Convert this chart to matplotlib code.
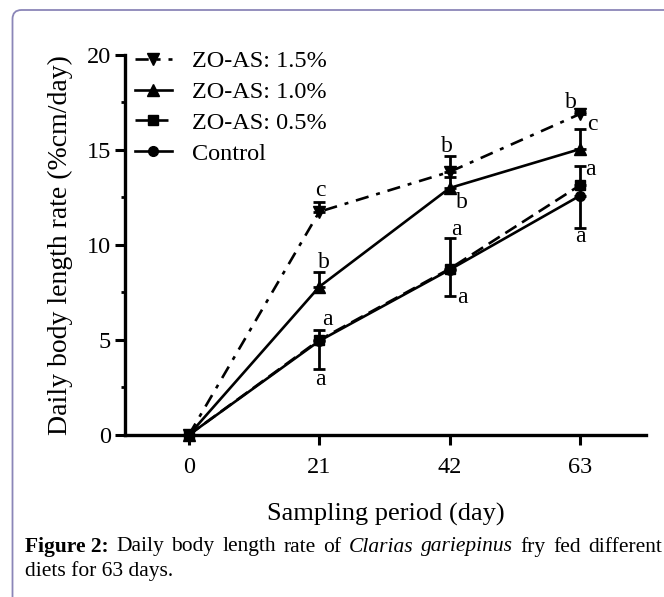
import matplotlib
matplotlib.use('Agg')
import matplotlib.pyplot as plt
from matplotlib.patches import FancyBboxPatch
from matplotlib.transforms import IdentityTransform
from matplotlib.ticker import MultipleLocator

plt.rcParams['font.family'] = ['Liberation Serif', 'DejaVu Serif']

# Data
days = [0, 21, 42, 63]
zo15 = [0, 11.75, 13.85, 16.9]
zo15_err = [0, 0.5, 0.85, 0.1]
zo10 = [0, 7.8, 13.0, 15.05]
zo10_err = [0, 0.8, 0.6, 1.05]
zo05 = [0, 5.0, 8.75, 13.15]
zo05_err = [0, 0.5, 1.6, 1.0]
ctrl = [0, 4.95, 8.7, 12.6]
ctrl_err = [0, 1.5, 1.4, 1.7]

# significance letters at day 21, 42, 63
zo15_letters = ['c', 'b', 'b']
zo10_letters = ['b', 'b', 'c']
zo05_letters = ['a', 'a', 'a']
ctrl_letters = ['a', 'a', 'a']

fig = plt.figure(figsize=(6.64, 5.97), dpi=100)
ax = fig.add_axes([0.188, 0.2714, 0.785, 0.6365])

lw = 1.9
kw = dict(color='black', lw=lw, capsize=4, capthick=2, elinewidth=2, clip_on=False)
none = [0] * len(days)

# one-sided error bars as in the original
e_ctrl = ax.errorbar(days, ctrl, yerr=[ctrl_err, none], marker='o', ms=7, ls='-', **kw)
e_05 = ax.errorbar(days, zo05, yerr=[none, zo05_err], marker='s', ms=7,
                   ls=(0, (5, 2.5)), **kw)
e_10 = ax.errorbar(days, zo10, yerr=[none, zo10_err], marker='^', ms=8, ls='-', **kw)
e_15 = ax.errorbar(days, zo15, yerr=[none, zo15_err], marker='v', ms=8,
                   ls=(0, (5, 3, 1.5, 3)), **kw)

# letters: anchor at the end of the error bar (or the mean), offset in points
lfs = 17
series = [
    (zo15, zo15_err, 1, zo15_letters, [(0.7, 4.7), (-2, 3), (-6.5, 2.8)], [True, True, True]),
    (zo10, zo10_err, 1, zo10_letters, [(3, 2.3), (8.8, -14.6), (8.4, -0.9)], [True, False, True]),
    (zo05, zo05_err, 1, zo05_letters, [(5.5, 3.6), (5, 2.1), (7.2, -6.7)], [True, True, True]),
    (ctrl, ctrl_err, -1, ctrl_letters, [(0.7, -11.4), (9, -5.1), (0, -10.2)], [True, True, True]),
]
for vals, errs, sign, letters, offs, use_err in series:
    for i in range(1, len(days)):
        y = vals[i] + sign * errs[i] if use_err[i - 1] else vals[i]
        ax.annotate(letters[i - 1], (days[i], y), xytext=offs[i - 1],
                    textcoords='offset points', ha='center', va='baseline',
                    fontsize=lfs)

ax.set_xlim(-10.3, 73.6)
ax.set_ylim(0, 20)
ax.set_xticks(days)
ax.set_yticks([0, 5, 10, 15, 20])
ax.yaxis.set_minor_locator(MultipleLocator(2.5))
for s in ['top', 'right']:
    ax.spines[s].set_visible(False)
for s in ['left', 'bottom']:
    ax.spines[s].set_linewidth(2.4)
ax.tick_params(axis='both', which='major', labelsize=17.5, width=2.2, length=7)
ax.tick_params(axis='x', pad=9)
ax.tick_params(axis='y', pad=3)
ax.tick_params(axis='y', which='minor', width=2, length=3)

ax.set_xlabel('Sampling period (day)', fontsize=19, labelpad=18)
ax.set_ylabel('Daily body length rate (%cm/day)', fontsize=20, labelpad=10)

handles = [e_15[0], e_10[0], e_05[0], e_ctrl[0]]
labels = ['ZO-AS: 1.5%', 'ZO-AS: 1.0%', 'ZO-AS: 0.5%', 'Control']
ax.legend(handles, labels, loc='upper left', bbox_to_anchor=(0.02, 1.012),
          frameon=False, fontsize=17.5, handlelength=1.5, handletextpad=0.85,
          labelspacing=0.36, borderpad=0, borderaxespad=0)

# caption below the chart
fig.canvas.draw()
renderer = fig.canvas.get_renderer()
cfs = 15.5
line1 = [('Figure 2:', 'bold', 'normal'), ('Daily', 'normal', 'normal'),
         ('body', 'normal', 'normal'), ('length', 'normal', 'normal'),
         ('rate', 'normal', 'normal'), ('of', 'normal', 'normal'),
         ('Clarias', 'normal', 'italic'), ('gariepinus', 'normal', 'italic'),
         ('fry', 'normal', 'normal'), ('fed', 'normal', 'normal'),
         ('different', 'normal', 'normal')]
x0, x1 = 25, 662
y1 = 597 - 547
pieces = []
total = 0
for word, weight, style in line1:
    t = fig.text(0, y1 / 597, word, fontsize=cfs, fontweight=weight, fontstyle=style,
                 va='center', ha='left')
    w = t.get_window_extent(renderer).width
    pieces.append((t, w))
    total += w
gap = (x1 - x0 - total) / (len(pieces) - 1)
x = x0
for t, w in pieces:
    t.set_x(x / 664)
    x += w + gap
fig.text(x0 / 664, (597 - 571) / 597, 'diets for 63 days.', fontsize=cfs,
         va='center', ha='left')

# rounded frame around the figure
fig.patches.append(FancyBboxPatch((12.5, -30), 700, 597 - 10 + 30,
                                  boxstyle='round,pad=0,rounding_size=9',
                                  transform=IdentityTransform(), fill=False,
                                  edgecolor='#8b86b8', lw=1.3, figure=fig))

fig.savefig('out.png', dpi=100)
